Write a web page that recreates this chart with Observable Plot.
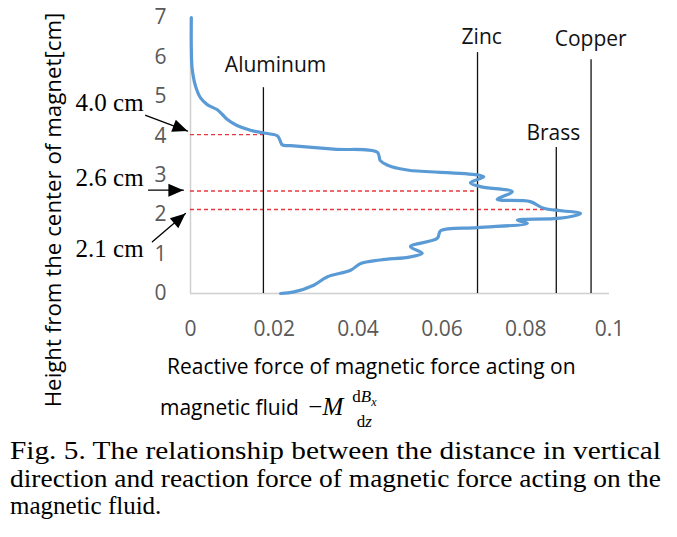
<!DOCTYPE html>
<html>
<head>
<meta charset="utf-8">
<script src="https://cdn.jsdelivr.net/npm/d3@7"></script>
<script src="https://cdn.jsdelivr.net/npm/@observablehq/plot@0.6"></script>
<style>
  body { margin: 0; background: #fff; }
  #wrap { position: relative; width: 677px; height: 537px; overflow: hidden; background: #fff; }
  #chart { position: absolute; left: 0; top: 0; }
  .ylab { position: absolute; left: 52px; top: 210px; transform: translate(-50%, -50%) rotate(-90deg);
          white-space: nowrap; font-family: "Open Sans", sans-serif; font-size: 22.3px; color: #000; }
  .xlab { position: absolute; white-space: nowrap; font-family: "Open Sans", sans-serif; font-size: 21px; color: #000; }
  .math { font-family: "Liberation Serif", "DejaVu Serif", serif; font-size: 25px; margin-left: 4px; }
  .frac { display: inline-block; vertical-align: middle; text-align: center; font-family: "Liberation Serif", serif; font-size: 17px; line-height: 20px; margin-left: 8px; }
  .frac .num { display: block; padding: 0 1px; }
  .frac .den { display: block; }
  .cap { position: absolute; left: 10px; font-family: "Liberation Serif", "Times New Roman", serif;
         font-size: 25px; color: #000; white-space: nowrap; transform-origin: 0 0; }
</style>
</head>
<body>
<div id="wrap">
  <div id="chart"></div>
  <div class="ylab">Height from the center of magnet[cm]</div>
  <div class="xlab" style="left:167px; top:352px;">Reactive force of magnetic force acting on</div>
  <div class="xlab" style="left:160px; top:387px;">magnetic fluid <span class="math">&minus;<i>M</i></span><span class="frac"><span class="num">d<i>B</i><sub style="font-size:12px"><i>x</i></sub></span><span class="den">d<i>z</i></span></span></div>
  <div class="cap fit" style="top:437px;">Fig. 5. The relationship between the distance in vertical</div>
  <div class="cap fit" style="top:465px;">direction and reaction force of magnetic force acting on the</div>
  <div class="cap" style="top:492px;">magnetic fluid.</div>
</div>
<script>
// Curve: reactive force (x) versus height from magnet centre (y), read top to bottom
const forces = [0.0002, 0.0002, 0.0004, 0.0012, 0.0024, 0.0040, 0.0064, 0.0076, 0.0088, 0.0111,
  0.0143, 0.0175, 0.0207, 0.0213, 0.0219, 0.0239, 0.0342, 0.0446, 0.0453, 0.0469,
  0.0497, 0.0525, 0.0684, 0.0700, 0.0668, 0.0692, 0.0768, 0.0732, 0.0811, 0.0843,
  0.0931, 0.0883, 0.0780, 0.0804, 0.0684, 0.0597, 0.0589, 0.0525, 0.0553, 0.0525,
  0.0453, 0.0406, 0.0382, 0.0326, 0.0294, 0.0247, 0.0215];
const heights = [7.0, 6.2, 5.7, 5.26, 4.96, 4.79, 4.66, 4.54, 4.41, 4.26,
  4.14, 4.07, 4.0, 3.9, 3.77, 3.75, 3.66, 3.58, 3.37, 3.26,
  3.17, 3.12, 3.01, 2.96, 2.81, 2.71, 2.58, 2.39, 2.33, 2.16,
  2.03, 1.91, 1.86, 1.78, 1.67, 1.59, 1.40, 1.19, 1.02, 0.93,
  0.85, 0.76, 0.59, 0.42, 0.21, 0.04, 0.0];

// Vertical reference lines for each material
const materials = ["Aluminum", "Zinc", "Brass", "Copper"];
const materialForce = [0.0174, 0.0685, 0.0873, 0.0956];
const materialTop = [5.22, 6.11, 3.70, 5.93];
const materialLabelX = [0.0203, 0.0695, 0.0866, 0.0955];
const materialLabelY = [5.78, 6.49, 4.06, 6.44];

// Red dashed marker lines
const markerHeight = [4.03, 2.60, 2.13];
const markerEnd = [0.0178, 0.0680, 0.0885];

// Annotations with arrows
const annoText = ["4.0 cm", "2.6 cm", "2.1 cm"];
const annoX = [-0.0193, -0.0193, -0.0193];
const annoY = [4.82, 2.92, 1.14];
const arrowX1 = [-0.0107, -0.0100, -0.0091];
const arrowY1 = [4.52, 2.62, 1.31];
const arrowX2 = [-0.0007, -0.0017, -0.0012];
const arrowY2 = [4.12, 2.62, 2.03];

// Ticks
const xTicks = [0, 0.02, 0.04, 0.06, 0.08, 0.1];
const xTickLabels = ["0", "0.02", "0.04", "0.06", "0.08", "0.1"];
const yTicks = [0, 1, 2, 3, 4, 5, 6, 7];
const yTickLabels = ["0", "1", "2", "3", "4", "5", "6", "7"];

const curve = forces.map((f, i) => ({force: f, height: heights[i]}));
const mats = materials.map((m, i) => ({name: m, force: materialForce[i], top: materialTop[i], lx: materialLabelX[i], ly: materialLabelY[i]}));
const markers = markerHeight.map((h, i) => ({h, end: markerEnd[i]}));

const W = 677, H = 430, ML = 190, MR = 68, MT = 17, MB = 137;
const kx = (W - ML - MR) / 0.1, ky = (H - MT - MB) / 7;
const annos = annoText.map((t, i) => ({
  t, x: annoX[i], y: annoY[i], x1: arrowX1[i], y1: arrowY1[i], x2: arrowX2[i], y2: arrowY2[i],
  angle: Math.atan2(-(arrowY2[i] - arrowY1[i]) * ky, (arrowX2[i] - arrowX1[i]) * kx) * 180 / Math.PI
}));

// filled arrowhead with its tip at the origin, pointing right
const headSymbol = { draw(ctx) { ctx.moveTo(0, 0); ctx.lineTo(-15, -6.5); ctx.lineTo(-15, 6.5); ctx.closePath(); } };

const FONT = "'Open Sans', sans-serif";
const chart = Plot.plot({
  width: W, height: H, marginLeft: ML, marginRight: MR, marginTop: MT, marginBottom: MB,
  style: {fontFamily: FONT, fontSize: "21px", color: "#595959", background: "transparent", overflow: "visible"},
  x: {domain: [0, 0.1]},
  y: {domain: [0, 7]},
  marks: [
    Plot.axisX(xTicks, {tickSize: 0, tickPadding: 28, label: null, fontSize: 21, tickFormat: d => xTickLabels[xTicks.indexOf(d)]}),
    Plot.axisY(yTicks, {tickSize: 0, tickPadding: 24, label: null, fontSize: 21, tickFormat: d => yTickLabels[yTicks.indexOf(d)]}),
    Plot.ruleX([0], {y1: 0, y2: 7, stroke: "#d0d0d0", strokeWidth: 1.5}),
    Plot.ruleY([0], {x1: 0, x2: 0.1, stroke: "#d0d0d0", strokeWidth: 1.5}),
    Plot.ruleY(markers, {y: "h", x1: 0, x2: "end", stroke: "#e8383d", strokeWidth: 1.3, strokeDasharray: "4,3"}),
    Plot.ruleX(mats, {x: "force", y1: 0, y2: "top", stroke: "#111", strokeWidth: 1.3}),
    Plot.line(curve, {x: "force", y: "height", stroke: "#5b9bd5", strokeWidth: 3.2, curve: "catmull-rom"}),
    Plot.text(mats, {x: "lx", y: "ly", text: "name", fill: "#111", fontSize: 21, fontFamily: FONT}),
    Plot.arrow(annos, {x1: "x1", y1: "y1", x2: "x2", y2: "y2", stroke: "#000", strokeWidth: 1.3, headLength: 0}),
    Plot.dot(annos, {x: "x2", y: "y2", symbol: headSymbol, rotate: "angle", fill: "#000", stroke: "none", r: 5}),
    Plot.text(annos, {x: "x", y: "y", text: "t", fill: "#000", fontSize: 25, fontFamily: "Liberation Serif, serif"})
  ]
});
document.getElementById("chart").appendChild(chart);

// stretch the first two caption lines to the full justified width
document.querySelectorAll(".cap.fit").forEach(el => {
  const w = el.getBoundingClientRect().width;
  el.style.transform = `scaleX(${651 / w})`;
});
</script>
</body>
</html>
